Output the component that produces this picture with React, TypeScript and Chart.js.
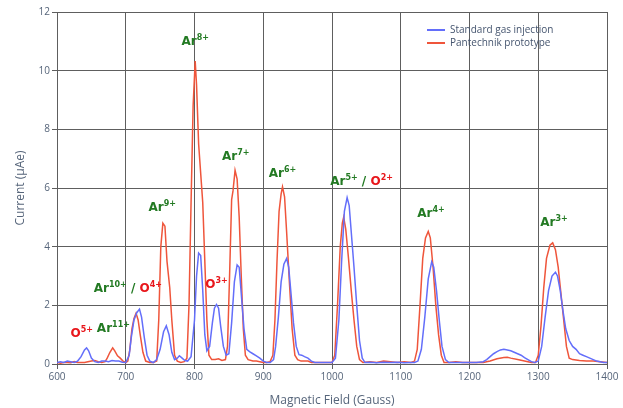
import React, { useEffect, useRef } from "react";
import { Chart, registerables } from "chart.js";

Chart.register(...registerables);

// ---- Data: Standard gas injection ----
const stdField = [
  600, 605, 610, 615, 620, 625, 630, 635, 640, 643,
  646, 650, 655, 660, 665, 670, 675, 680, 685, 690,
  695, 700, 705, 708, 712, 716, 720, 723, 727, 731,
  735, 740, 745, 750, 755, 759, 763, 767, 771, 775,
  778, 782, 786, 790, 795, 800, 803, 806, 809, 812,
  815, 818, 822, 826, 829, 832, 835, 838, 842, 846,
  850, 854, 858, 862, 865, 868, 872, 876, 880, 885,
  890, 895, 900, 905, 910, 915, 918, 922, 926, 930,
  934, 937, 940, 944, 948, 952, 956, 960, 965, 970,
  975, 980, 990, 1000, 1005, 1010, 1014, 1018, 1022, 1025,
  1028, 1032, 1036, 1040, 1044, 1048, 1055, 1065, 1075, 1085,
  1095, 1105, 1115, 1120, 1125, 1130, 1135, 1140, 1145, 1148,
  1152, 1156, 1160, 1165, 1170, 1180, 1190, 1200, 1210, 1220,
  1225, 1230, 1235, 1240, 1245, 1250, 1255, 1260, 1265, 1270,
  1275, 1280, 1285, 1290, 1295, 1300, 1305, 1310, 1315, 1320,
  1325, 1328, 1332, 1336, 1340, 1345, 1350, 1355, 1360, 1365,
  1370, 1375, 1380, 1385, 1390, 1395, 1400,
];
const stdCurrent = [
  0.05, 0.08, 0.05, 0.1, 0.08, 0.05, 0.1, 0.25, 0.48, 0.55,
  0.45, 0.2, 0.08, 0.05, 0.1, 0.1, 0.08, 0.12, 0.1, 0.1,
  0.06, 0.05, 0.3, 0.9, 1.5, 1.75, 1.87, 1.6, 0.9, 0.3,
  0.1, 0.05, 0.15, 0.5, 1.1, 1.3, 1.0, 0.4, 0.15, 0.2,
  0.28, 0.2, 0.12, 0.1, 0.25, 1.5, 3.0, 3.78, 3.7, 2.5,
  1.0, 0.45, 0.6, 1.4, 1.9, 2.03, 1.9, 1.3, 0.6, 0.3,
  0.35, 1.4, 2.8, 3.38, 3.3, 2.4, 1.2, 0.5, 0.42, 0.35,
  0.28, 0.2, 0.1, 0.05, 0.05, 0.15, 0.6, 1.6, 2.8, 3.4,
  3.6, 3.3, 2.5, 1.4, 0.6, 0.32, 0.3, 0.25, 0.2, 0.1,
  0.05, 0.05, 0.05, 0.05, 0.2, 1.5, 3.5, 5.2, 5.67, 5.4,
  4.5, 3.3, 2.0, 0.8, 0.2, 0.05, 0.06, 0.04, 0.06, 0.05,
  0.06, 0.04, 0.05, 0.05, 0.1, 0.5, 1.6, 2.9, 3.48, 3.3,
  2.5, 1.5, 0.6, 0.15, 0.05, 0.05, 0.05, 0.05, 0.05, 0.08,
  0.15, 0.25, 0.35, 0.42, 0.48, 0.5, 0.48, 0.45, 0.4, 0.35,
  0.3, 0.22, 0.15, 0.08, 0.05, 0.1, 0.6, 1.6, 2.5, 3.0,
  3.13, 3.0, 2.5, 1.8, 1.2, 0.8, 0.6, 0.5, 0.35, 0.3,
  0.25, 0.2, 0.15, 0.1, 0.08, 0.05, 0.05,
];

// ---- Data: Pantechnik prototype ----
const panField = [
  600, 605, 610, 615, 620, 625, 630, 635, 640, 645,
  650, 655, 660, 665, 670, 673, 677, 681, 684, 688,
  692, 696, 700, 703, 706, 709, 712, 715, 718, 721,
  725, 729, 735, 740, 745, 748, 751, 754, 757, 760,
  764, 767, 771, 775, 780, 785, 789, 792, 795, 798,
  801, 803, 806, 809, 812, 815, 818, 821, 825, 830,
  835, 840, 845, 848, 851, 854, 856, 859, 862, 865,
  868, 871, 874, 878, 885, 890, 895, 900, 905, 910,
  914, 917, 920, 923, 926, 928, 931, 934, 938, 942,
  946, 950, 955, 960, 965, 970, 980, 990, 1000, 1004,
  1008, 1012, 1015, 1017, 1020, 1024, 1028, 1032, 1036, 1040,
  1045, 1055, 1065, 1075, 1085, 1095, 1105, 1115, 1120, 1124,
  1128, 1132, 1136, 1140, 1143, 1147, 1151, 1155, 1159, 1163,
  1170, 1180, 1190, 1200, 1210, 1220, 1230, 1240, 1250, 1255,
  1260, 1270, 1280, 1290, 1296, 1300, 1304, 1308, 1312, 1317,
  1321, 1325, 1329, 1333, 1337, 1341, 1345, 1350, 1360, 1370,
  1380, 1390, 1400,
];
const panCurrent = [
  0.05, 0.03, 0.05, 0.05, 0.04, 0.08, 0.05, 0.05, 0.05, 0.08,
  0.1, 0.12, 0.08, 0.05, 0.08, 0.2, 0.4, 0.55, 0.45, 0.28,
  0.2, 0.1, 0.05, 0.1, 0.5, 1.2, 1.55, 1.73, 1.5, 1.0,
  0.4, 0.1, 0.05, 0.05, 0.1, 1.5, 4.0, 4.8, 4.7, 3.5,
  2.6, 1.5, 0.3, 0.1, 0.05, 0.08, 0.2, 2.0, 5.5, 8.8,
  10.33, 9.5, 7.5, 6.5, 5.5, 3.5, 1.5, 0.3, 0.15, 0.15,
  0.18, 0.12, 0.15, 0.6, 3.0, 5.6, 5.9, 6.6, 6.3, 5.0,
  3.0, 1.2, 0.3, 0.15, 0.1, 0.1, 0.08, 0.05, 0.05, 0.08,
  0.3, 1.5, 3.5, 5.2, 5.8, 6.04, 5.7, 4.5, 2.8, 1.2,
  0.3, 0.15, 0.1, 0.1, 0.1, 0.05, 0.05, 0.05, 0.05, 0.3,
  2.0, 4.0, 4.8, 5.0, 4.6, 3.6, 2.5, 1.5, 0.6, 0.15,
  0.05, 0.08, 0.05, 0.1, 0.08, 0.05, 0.08, 0.05, 0.1, 0.5,
  2.0, 3.6, 4.3, 4.52, 4.3, 3.3, 2.0, 1.0, 0.3, 0.05,
  0.05, 0.08, 0.05, 0.05, 0.05, 0.05, 0.1, 0.18, 0.22, 0.23,
  0.2, 0.15, 0.1, 0.05, 0.05, 0.3, 1.3, 2.6, 3.6, 4.05,
  4.13, 3.9, 3.3, 2.4, 1.5, 0.6, 0.2, 0.15, 0.12, 0.1,
  0.1, 0.08, 0.05,
];

const seriesNames = ["Standard gas injection", "Pantechnik prototype"];
const seriesColors = ["#636EFA", "#EF553B"];

// ---- Peak annotations (ion labels) ----
const GREEN = "#237a23";
const RED = "#e8161b";
type Part = { t: string; sup?: boolean; c: string };
const annoField = [801, 860, 928, 1043, 1144, 1323, 753, 703, 832, 636, 682];
const annoCurrent = [11.0, 7.1, 6.5, 6.24, 5.15, 4.85, 5.35, 2.6, 2.72, 1.05, 1.22];
const annoParts: Part[][] = [
  [{ t: "Ar", c: GREEN }, { t: "8+", sup: true, c: GREEN }],
  [{ t: "Ar", c: GREEN }, { t: "7+", sup: true, c: GREEN }],
  [{ t: "Ar", c: GREEN }, { t: "6+", sup: true, c: GREEN }],
  [
    { t: "Ar", c: GREEN }, { t: "5+", sup: true, c: GREEN },
    { t: " / ", c: GREEN }, { t: "O", c: RED }, { t: "2+", sup: true, c: RED },
  ],
  [{ t: "Ar", c: GREEN }, { t: "4+", sup: true, c: GREEN }],
  [{ t: "Ar", c: GREEN }, { t: "3+", sup: true, c: GREEN }],
  [{ t: "Ar", c: GREEN }, { t: "9+", sup: true, c: GREEN }],
  [
    { t: "Ar", c: GREEN }, { t: "10+", sup: true, c: GREEN },
    { t: " / ", c: GREEN }, { t: "O", c: RED }, { t: "4+", sup: true, c: RED },
  ],
  [{ t: "O", c: RED }, { t: "3+", sup: true, c: RED }],
  [{ t: "O", c: RED }, { t: "5+", sup: true, c: RED }],
  [{ t: "Ar", c: GREEN }, { t: "11+", sup: true, c: GREEN }],
];

const FONT = "'Open Sans', 'DejaVu Sans', sans-serif";
const AXIS_COLOR = "#56657a";
const GRID_COLOR = "#5e5e5e";

const annotationPlugin = {
  id: "ionLabels",
  afterDatasetsDraw(chart: any) {
    const ctx = chart.ctx;
    const xs = chart.scales.x;
    const ys = chart.scales.y;
    const mainFont = "bold 12px 'DejaVu Sans', sans-serif";
    const supFont = "bold 8px 'DejaVu Sans', sans-serif";
    ctx.save();
    ctx.textBaseline = "alphabetic";
    ctx.textAlign = "left";
    annoParts.forEach((parts, i) => {
      let w = 0;
      parts.forEach((p) => {
        ctx.font = p.sup ? supFont : mainFont;
        w += ctx.measureText(p.t).width;
      });
      const cx = xs.getPixelForValue(annoField[i]);
      const cy = ys.getPixelForValue(annoCurrent[i]);
      let x = cx - w / 2;
      const base = cy + 4;
      parts.forEach((p) => {
        ctx.font = p.sup ? supFont : mainFont;
        ctx.fillStyle = p.c;
        ctx.fillText(p.t, x, p.sup ? base - 5 : base);
        x += ctx.measureText(p.t).width;
      });
    });
    ctx.restore();
  },
};

const legendPlugin = {
  id: "insideLegend",
  afterDraw(chart: any) {
    const ctx = chart.ctx;
    const area = chart.chartArea;
    ctx.save();
    ctx.font = `10px ${FONT}`;
    ctx.textBaseline = "middle";
    ctx.textAlign = "left";
    chart.data.datasets.forEach((ds: any, i: number) => {
      const y = area.top + 18 + i * 13;
      const x0 = area.right - 180;
      ctx.strokeStyle = ds.borderColor;
      ctx.lineWidth = 2;
      ctx.beginPath();
      ctx.moveTo(x0, y);
      ctx.lineTo(x0 + 18, y);
      ctx.stroke();
      ctx.fillStyle = "#44546e";
      ctx.fillText(ds.label, x0 + 23, y);
    });
    ctx.restore();
  },
};

export default function App() {
  const canvasRef = useRef<HTMLCanvasElement | null>(null);

  useEffect(() => {
    const canvas = canvasRef.current;
    if (!canvas) return;
    const chart = new Chart(canvas, {
      type: "line",
      data: {
        datasets: [
          {
            label: seriesNames[0],
            data: stdField.map((x, i) => ({ x, y: stdCurrent[i] })),
            borderColor: seriesColors[0],
            borderWidth: 1.5,
            pointRadius: 0,
            tension: 0,
            fill: false,
          },
          {
            label: seriesNames[1],
            data: panField.map((x, i) => ({ x, y: panCurrent[i] })),
            borderColor: seriesColors[1],
            borderWidth: 1.5,
            pointRadius: 0,
            tension: 0,
            fill: false,
          },
        ],
      },
      options: {
        responsive: false,
        animation: false,
        layout: { padding: { left: 0, top: 12, right: 16, bottom: 0 } },
        plugins: {
          legend: { display: false },
          tooltip: { enabled: false },
        },
        scales: {
          x: {
            type: "linear",
            min: 600,
            max: 1400,
            afterFit: (s: any) => {
              s.height = 44;
            },
            ticks: {
              stepSize: 100,
              padding: 2,
              color: AXIS_COLOR,
              font: { family: FONT, size: 10 },
              maxRotation: 0,
              callback: (v: any) => String(v),
            },
            grid: { color: GRID_COLOR, lineWidth: 1, tickLength: 5 },
            border: { color: GRID_COLOR },
            title: {
              display: true,
              text: "Magnetic Field (Gauss)",
              color: AXIS_COLOR,
              font: { family: FONT, size: 12 },
              padding: { top: 2, bottom: 0 },
            },
          },
          y: {
            type: "linear",
            min: 0,
            max: 12,
            afterFit: (s: any) => {
              s.width = 57;
            },
            ticks: {
              stepSize: 2,
              padding: 2,
              color: AXIS_COLOR,
              font: { family: FONT, size: 10 },
              callback: (v: any) => String(v),
            },
            grid: { color: GRID_COLOR, lineWidth: 1, tickLength: 5 },
            border: { color: GRID_COLOR },
            title: {
              display: true,
              text: "Current (µAe)",
              color: AXIS_COLOR,
              font: { family: FONT, size: 12 },
              padding: { top: 13, bottom: 0 },
            },
          },
        },
      },
      plugins: [annotationPlugin, legendPlugin],
    });
    return () => chart.destroy();
  }, []);

  return (
    <div style={{ position: "fixed", left: 0, top: 0, width: 623, height: 408, background: "#fff" }}>
      <canvas ref={canvasRef} width={623} height={408} />
    </div>
  );
}
